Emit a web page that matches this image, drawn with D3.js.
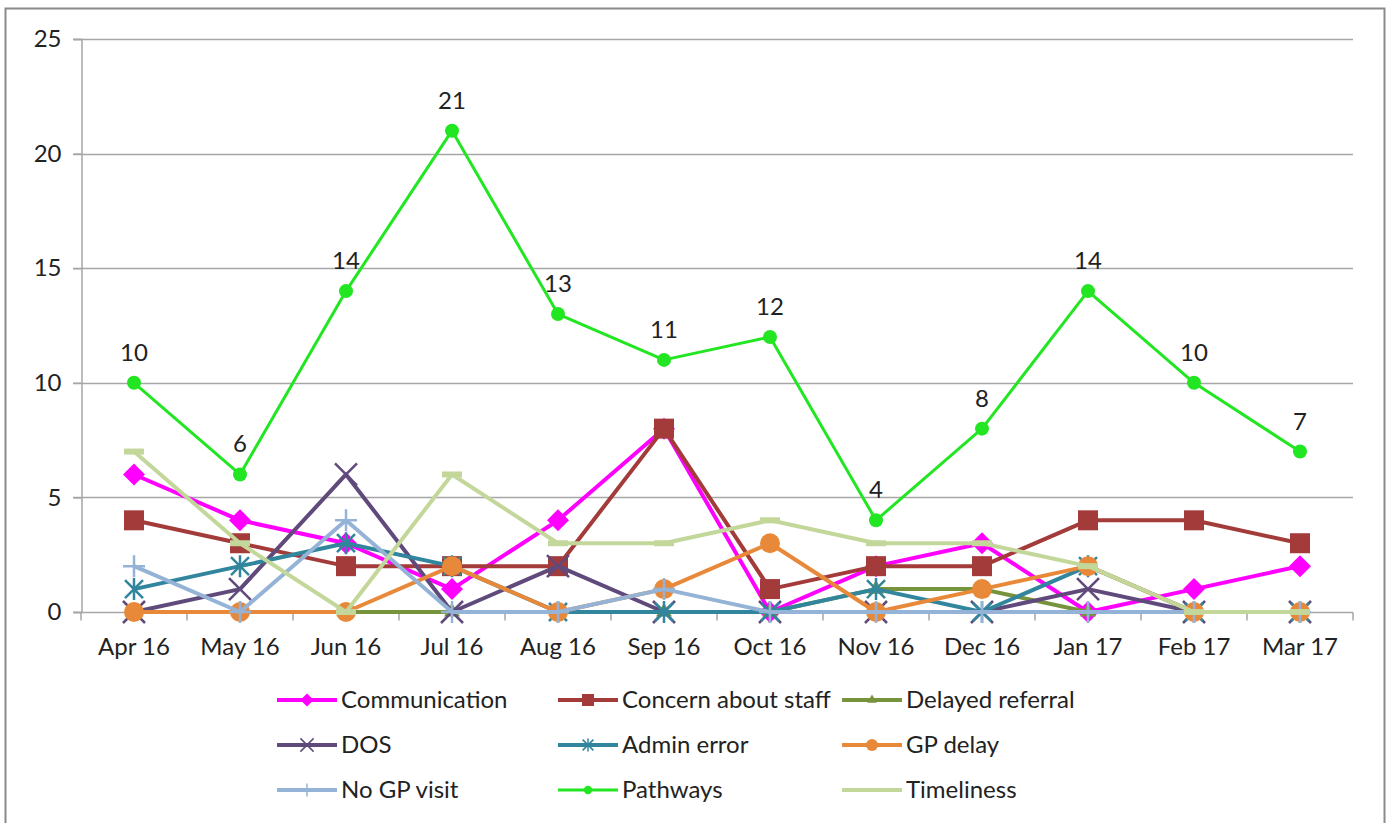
<!DOCTYPE html>
<html>
<head>
<meta charset="utf-8">
<script src="https://cdn.jsdelivr.net/npm/d3@7"></script>
<style>
  html, body { margin: 0; padding: 0; background: #fff; }
  svg { display: block; }
  text { font-family: Lato, "Open Sans", "Liberation Sans", sans-serif; fill: #222; }
</style>
</head>
<body>
<svg id="chart" width="1392" height="823"></svg>
<script>
// Monthly categories
const months = ["Apr 16", "May 16", "Jun 16", "Jul 16", "Aug 16", "Sep 16",
                "Oct 16", "Nov 16", "Dec 16", "Jan 17", "Feb 17", "Mar 17"];

// Counts per theme for each month
const communication   = [6, 4, 3, 1, 4, 8, 0, 2, 3, 0, 1, 2];
const concernStaff    = [4, 3, 2, 2, 2, 8, 1, 2, 2, 4, 4, 3];
const delayedReferral = [0, 0, 0, 0, 0, 0, 0, 1, 1, 0, 0, 0];
const dos             = [0, 1, 6, 0, 2, 0, 0, 0, 0, 1, 0, 0];
const adminError      = [1, 2, 3, 2, 0, 0, 0, 1, 0, 2, 0, 0];
const gpDelay         = [0, 0, 0, 2, 0, 1, 3, 0, 1, 2, 0, 0];
const noGpVisit       = [2, 0, 4, 0, 0, 1, 0, 0, 0, 0, 0, 0];
const pathways        = [10, 6, 14, 21, 13, 11, 12, 4, 8, 14, 10, 7];
const timeliness      = [7, 3, 0, 6, 3, 3, 4, 3, 3, 2, 0, 0];

const yTicks = [0, 5, 10, 15, 20, 25];

const series = [
  { name: "Communication",       values: communication,   color: "#ff00ff", marker: "diamond",  width: 4 },
  { name: "Concern about staff", values: concernStaff,    color: "#a33b3a", marker: "square",   width: 4 },
  { name: "Delayed referral",    values: delayedReferral, color: "#77933c", marker: "triangle", width: 4 },
  { name: "DOS",                 values: dos,             color: "#604a7b", marker: "x",        width: 4 },
  { name: "Admin error",         values: adminError,      color: "#31859c", marker: "star",     width: 4 },
  { name: "GP delay",            values: gpDelay,         color: "#e8893a", marker: "circle",   width: 4 },
  { name: "No GP visit",         values: noGpVisit,       color: "#95b3d7", marker: "plus",     width: 4 },
  { name: "Pathways",            values: pathways,        color: "#22e622", marker: "dot",      width: 3, labels: true },
  { name: "Timeliness",          values: timeliness,      color: "#c4d79b", marker: "dash",     width: 4 }
];

const FONT = "24px";
const svg = d3.select("#chart");

// Outer chart frame
svg.append("rect")
  .attr("x", 5.5).attr("y", 8.5).attr("width", 1379).attr("height", 830)
  .attr("fill", "#fff").attr("stroke", "#8a8a8a").attr("stroke-width", 2);

const plot = { left: 81, right: 1353, top: 39, bottom: 612 };

const x = d3.scaleBand().domain(months).range([plot.left, plot.right]).padding(0);
const y = d3.scaleLinear().domain([0, 25]).range([plot.bottom, plot.top]);
const cx = m => x(m) + x.bandwidth() / 2;

// Horizontal gridlines
svg.append("g")
  .selectAll("line")
  .data(yTicks.filter(t => t > 0))
  .join("line")
  .attr("x1", plot.left - 8).attr("x2", plot.right)
  .attr("y1", d => Math.round(y(d)) + 0.5).attr("y2", d => Math.round(y(d)) + 0.5)
  .attr("stroke", "#a6a6a6").attr("stroke-width", 1.5);

// Y axis
const yAxis = svg.append("g")
  .attr("transform", `translate(${plot.left + 0.5},0)`)
  .call(d3.axisLeft(y).tickValues(yTicks).tickSize(8).tickPadding(12));
yAxis.select(".domain").attr("stroke", "#a6a6a6").attr("stroke-width", 1.5);
yAxis.selectAll(".tick line").attr("stroke", "#a6a6a6").attr("stroke-width", 1.5);
yAxis.selectAll(".tick text")
  .style("font-size", FONT).style("font-family", "Lato, 'Open Sans', sans-serif")
  .attr("fill", "#222");

// X axis with ticks on category boundaries
const xAxisG = svg.append("g").attr("transform", `translate(0,${plot.bottom + 0.5})`);
xAxisG.append("line")
  .attr("x1", plot.left - 8).attr("x2", plot.right)
  .attr("stroke", "#a6a6a6").attr("stroke-width", 1.5);
xAxisG.selectAll("line.boundary")
  .data(months.map(m => x(m)).concat([x(months[months.length - 1]) + x.bandwidth()]))
  .join("line").attr("class", "boundary")
  .attr("x1", d => d).attr("x2", d => d).attr("y1", 0).attr("y2", 8)
  .attr("stroke", "#a6a6a6").attr("stroke-width", 1.5);
xAxisG.selectAll("text")
  .data(months).join("text")
  .attr("x", d => cx(d)).attr("y", 42)
  .attr("text-anchor", "middle")
  .style("font-size", FONT)
  .text(d => d);

// Marker shapes
function drawMarker(g, type, color, px, py) {
  switch (type) {
    case "diamond":
      g.append("path").attr("d", "M0,-11L11,0L0,11L-11,0Z").attr("transform", `translate(${px},${py})`).attr("fill", color);
      break;
    case "square":
      g.append("rect").attr("x", px - 10).attr("y", py - 10).attr("width", 20).attr("height", 20).attr("fill", color);
      break;
    case "triangle":
      g.append("path").attr("d", d3.symbol(d3.symbolTriangle, 110)()).attr("transform", `translate(${px},${py})`).attr("fill", color);
      break;
    case "x":
      g.append("path").attr("d", "M-11,-11L11,11M-11,11L11,-11").attr("transform", `translate(${px},${py})`)
        .attr("stroke", color).attr("stroke-width", 2.5).attr("fill", "none");
      break;
    case "star":
      g.append("path").attr("d", "M-9,-9L9,9M-9,9L9,-9M0,-11L0,11").attr("transform", `translate(${px},${py})`)
        .attr("stroke", color).attr("stroke-width", 2.5).attr("fill", "none");
      break;
    case "circle":
      g.append("circle").attr("cx", px).attr("cy", py).attr("r", 10).attr("fill", color);
      break;
    case "plus":
      g.append("path").attr("d", "M-11,0L11,0M0,-11L0,11").attr("transform", `translate(${px},${py})`)
        .attr("stroke", color).attr("stroke-width", 2.5).attr("fill", "none");
      break;
    case "dot":
      g.append("circle").attr("cx", px).attr("cy", py).attr("r", 7).attr("fill", color);
      break;
    case "dash":
      g.append("rect").attr("x", px - 10).attr("y", py - 3).attr("width", 20).attr("height", 6).attr("fill", color);
      break;
  }
}

const line = d3.line().x((d, i) => cx(months[i])).y(d => y(d));

series.forEach(s => {
  const g = svg.append("g");
  g.append("path")
    .datum(s.values)
    .attr("d", line)
    .attr("fill", "none")
    .attr("stroke", s.color)
    .attr("stroke-width", s.width)
    .attr("stroke-linejoin", "round");
  s.values.forEach((v, i) => drawMarker(g, s.marker, s.color, cx(months[i]), y(v)));
  if (s.labels) {
    g.selectAll("text.lbl")
      .data(s.values).join("text").attr("class", "lbl")
      .attr("x", (d, i) => cx(months[i]))
      .attr("y", d => y(d) - 22)
      .attr("text-anchor", "middle")
      .style("font-size", FONT)
      .text(d => d);
  }
});

// Legend: three columns, three rows
const legendCols = [277, 558, 842];
const legendRows = [700, 745, 790];
series.forEach((s, i) => {
  const lx = legendCols[i % 3];
  const ly = legendRows[Math.floor(i / 3)];
  const g = svg.append("g");
  g.append("line")
    .attr("x1", lx).attr("x2", lx + 60).attr("y1", ly).attr("y2", ly)
    .attr("stroke", s.color).attr("stroke-width", s.width);
  const mk = g.append("g").attr("transform", `translate(${lx + 30},${ly}) scale(0.6)`);
  drawMarker(mk, s.marker === "dash" ? "none" : s.marker, s.color, 0, 0);
  g.append("text")
    .attr("x", lx + 64).attr("y", ly + 8)
    .style("font-size", FONT)
    .text(s.name);
});
</script>
</body>
</html>
